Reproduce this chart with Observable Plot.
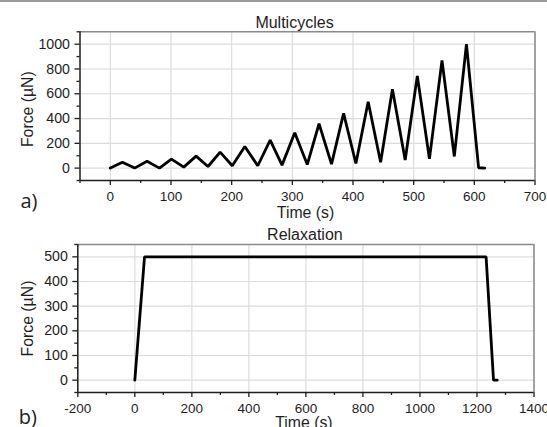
<!DOCTYPE html>
<html>
<head>
<meta charset="utf-8">
<script src="https://cdn.jsdelivr.net/npm/d3@7"></script>
<script src="https://cdn.jsdelivr.net/npm/@observablehq/plot@0.6"></script>
<style>
  html, body { margin: 0; padding: 0; background: #fff; }
  #fig { position: relative; width: 547px; height: 427px; overflow: hidden; background: #fff; }
  #fig > .panel { position: absolute; left: 0; }
  #topline { position: absolute; left: 0; top: 0; width: 547px; height: 2px; background: #9a9a9a; }
</style>
</head>
<body>
<div id="fig"><div id="topline"></div></div>
<script>
// ---- Data ----
// (a) Multicycles: time (s) and force (µN) at the turning points of the loading cycles
const cycleTime  = [0, 20, 40, 60.5, 81, 100.7, 121, 141.4, 161, 181, 201, 221.7, 243, 263.5, 283, 304, 324.6, 344, 364.6, 384.5, 404.8, 425, 445.5, 465, 486, 506, 526, 546.7, 567, 587, 607, 617];
const cycleForce = [0, 48, 0, 56, 0, 73, 8, 97, 13, 129, 19, 175, 19, 226, 24, 286, 29, 358, 32, 442, 37, 536, 48, 636, 65, 744, 75, 868, 94, 1000, 3, 0];

// (b) Relaxation: time (s) and force (µN)
const relaxTime  = [0, 34, 1232, 1258, 1271];
const relaxForce = [0, 500, 500, 0, 0];

// Tick labels
const cycleXTicks = [0, 100, 200, 300, 400, 500, 600, 700];
const cycleYTicks = [0, 200, 400, 600, 800, 1000];
const relaxXTicks = [-200, 0, 200, 400, 600, 800, 1000, 1200, 1400];
const relaxYTicks = [0, 100, 200, 300, 400, 500];

const cycleData = cycleTime.map((t, i) => ({t, f: cycleForce[i]}));
const relaxData = relaxTime.map((t, i) => ({t, f: relaxForce[i]}));

const FONT = "'Liberation Sans', Arial, sans-serif";
const fmt = d => String(d);

function panel(o) {
  const [x0, x1] = o.xDomain, [y0, y1] = o.yDomain;
  return Plot.plot({
    width: 547,
    height: o.height,
    marginLeft: o.ml, marginRight: o.mr, marginTop: o.mt, marginBottom: o.mb,
    x: {domain: o.xDomain},
    y: {domain: o.yDomain},
    style: {fontFamily: FONT, fontSize: "13.5px", color: "#1e1e1e", background: "transparent"},
    marks: [
      Plot.gridX(o.xTicks, {stroke: "#dcdcdc", strokeOpacity: 1, strokeWidth: 1.2}),
      Plot.gridY(o.yTicks, {stroke: "#dcdcdc", strokeOpacity: 1, strokeWidth: 1.2}),
      Plot.ruleX([x1], {stroke: "#8a8a8a", strokeWidth: 1.5}),
      Plot.ruleY([y1], {stroke: "#8a8a8a", strokeWidth: 1.5}),
      Plot.line(o.data, {x: "t", y: "f", stroke: "#000", strokeWidth: 2.8, strokeLinejoin: "miter"}),
      Plot.ruleX([x0], {stroke: "#1e1e1e", strokeWidth: 1.5}),
      Plot.ruleY([y0], {stroke: "#1e1e1e", strokeWidth: 1.5}),
      Plot.axisX(o.xTicks, {tickSize: 5, tickPadding: 6, tickFormat: fmt, label: null, strokeWidth: 1.3, fontSize: 13.5}),
      Plot.axisX(o.xMinor, {tickSize: 3, tickFormat: () => "", label: null, strokeWidth: 1.3}),
      Plot.axisY(o.yTicks, {tickSize: 5, tickPadding: 5, tickFormat: fmt, label: null, strokeWidth: 1.3, fontSize: 14.2}),
      Plot.axisY(o.yMinor, {tickSize: 3, tickFormat: () => "", label: null, strokeWidth: 1.3}),
      Plot.text([o.title], {text: d => d, frameAnchor: "top", dx: o.titleDx, dy: o.titleDy, textAnchor: "middle", lineAnchor: "bottom", fontSize: 16, fill: "#1e1e1e"}),
      Plot.text(["Time (s)"], {text: d => d, frameAnchor: "bottom", dx: -2, dy: o.xLabelDy, textAnchor: "middle", lineAnchor: "bottom", fontSize: 15.8, fill: "#1e1e1e"}),
      Plot.text(["Force (µN)"], {text: d => d, frameAnchor: "left", dx: o.yLabelDx, dy: o.yLabelDy, rotate: -90, textAnchor: "middle", lineAnchor: "middle", fontSize: 15.8, fill: "#1e1e1e"}),
      Plot.text([o.tag], {text: d => d, frameAnchor: "bottom-left", dx: o.tagDx, dy: o.tagDy, textAnchor: "middle", lineAnchor: "bottom", fontSize: 20, fontFamily: "'Open Sans', sans-serif", fill: "#222"})
    ]
  });
}

const fig = document.getElementById("fig");

const topPlot = panel({
  height: 222, ml: 79.5, mr: 12.5, mt: 31.3, mb: 42,
  xDomain: [-50, 700], yDomain: [-100, 1100],
  xTicks: cycleXTicks, yTicks: cycleYTicks,
  xMinor: d3.range(-50, 700, 100), yMinor: d3.range(-100, 1101, 200),
  data: cycleData,
  title: "Multicycles", titleDx: -13, titleDy: -3.8,
  xLabelDy: 37.3, yLabelDx: -52, yLabelDy: 3,
  tag: "a)", tagDx: -51, tagDy: 27
});
topPlot.classList.add("panel");
topPlot.style.top = "0px";
fig.insertBefore(topPlot, fig.firstChild);

const botPlot = panel({
  height: 205, ml: 77.3, mr: 13.5, mt: 22, mb: 35,
  xDomain: [-200, 1400], yDomain: [-50, 550],
  xTicks: relaxXTicks, yTicks: relaxYTicks,
  xMinor: d3.range(-100, 1400, 200), yMinor: d3.range(-50, 551, 100),
  data: relaxData,
  title: "Relaxation", titleDx: -1, titleDy: -4.5,
  xLabelDy: 35, yLabelDx: -50, yLabelDy: 0,
  tag: "b)", tagDx: -50, tagDy: 31
});
botPlot.classList.add("panel");
botPlot.style.top = "222px";
fig.insertBefore(botPlot, topPlot.nextSibling);
</script>
</body>
</html>
